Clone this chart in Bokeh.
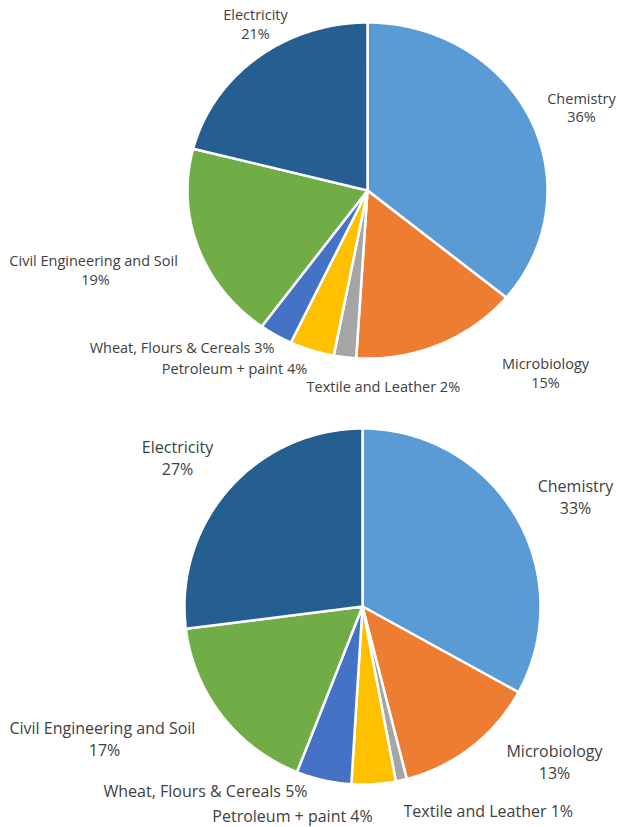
import numpy as np
from bokeh.plotting import figure
from bokeh.models import Range1d, ColumnDataSource
from bokeh.embed import file_html
from bokeh.resources import INLINE
from bokeh.core.properties import value

# ---------------- data ----------------
categories = ["Chemistry", "Microbiology", "Textile and Leather", "Petroleum + paint",
              "Wheat, Flours & Cereals", "Civil Engineering  and Soil", "Electricity"]
top_values = [36, 15, 2, 4, 3, 19, 21]
bottom_values = [33, 13, 1, 4, 5, 17, 27]
colors = ["#5B9BD5", "#ED7D31", "#A5A5A5", "#FFC000", "#4472C4", "#70AD47", "#255E91"]

# ---------------- layout (pixel coordinates of the picture) ----------------
W, H = 617, 827
TOP_PIE = dict(cx=367, cy=190, rx=180, ry=168, font="14.5px", lh=0.97)
BOT_PIE = dict(cx=362, cy=606, rx=178, ry=178, font="16px", lh=1.0)
# per category: x, y, align, two-line?
TOP_LABELS = [(581, 107, "center", True), (545, 372.5, "center", True), (306, 386, "left", False),
              (234, 368, "center", False), (274, 347, "right", False), (95, 269.5, "center", True),
              (255, 23.5, "center", True)]
BOT_LABELS = [(575, 496, "center", True), (554, 761.5, "center", True), (403, 810, "left", False),
              (292, 815, "center", False), (307, 790, "right", False), (104, 738.5, "center", True),
              (177, 457.5, "center", True)]

p = figure(width=W, height=H, x_range=Range1d(0, W), y_range=Range1d(H, 0),
           x_axis_type=None, y_axis_type=None, toolbar_location=None, output_backend="svg",
           min_border=0, outline_line_color=None, background_fill_color="white")
p.grid.visible = False


def draw_pie(values, geo, labels):
    total = float(sum(values))
    fr = np.cumsum([0.0] + [v / total for v in values])
    xs, ys = [], []
    for i in range(len(values)):
        a0, a1 = fr[i] * 2 * np.pi, fr[i + 1] * 2 * np.pi
        n = max(3, int(np.degrees(a1 - a0) * 2) + 2)
        t = np.linspace(a0, a1, n)
        xs.append(np.concatenate([[geo["cx"]], geo["cx"] + geo["rx"] * np.sin(t)]))
        ys.append(np.concatenate([[geo["cy"]], geo["cy"] - geo["ry"] * np.cos(t)]))
    src = ColumnDataSource(dict(xs=xs, ys=ys, color=colors))
    p.patches("xs", "ys", source=src, fill_color="color", line_color="white", line_width=2.5)

    groups = {}
    for name, v, (x, y, align, two) in zip(categories, values, labels):
        txt = f"{name}\n{v}%" if two else f"{name} {v}%"
        g = groups.setdefault(align, dict(x=[], y=[], text=[]))
        g["x"].append(x)
        g["y"].append(y)
        g["text"].append(txt)
    for align, g in groups.items():
        p.text(x="x", y="y", text="text", source=ColumnDataSource(g),
               text_font=value("Open Sans"), text_font_size=value(geo["font"]),
               text_color="#404040", text_align=align, text_baseline="middle",
               text_line_height=geo["lh"])


draw_pie(top_values, TOP_PIE, TOP_LABELS)
draw_pie(bottom_values, BOT_PIE, BOT_LABELS)

open("out.html", "w").write(file_html(p, INLINE))
